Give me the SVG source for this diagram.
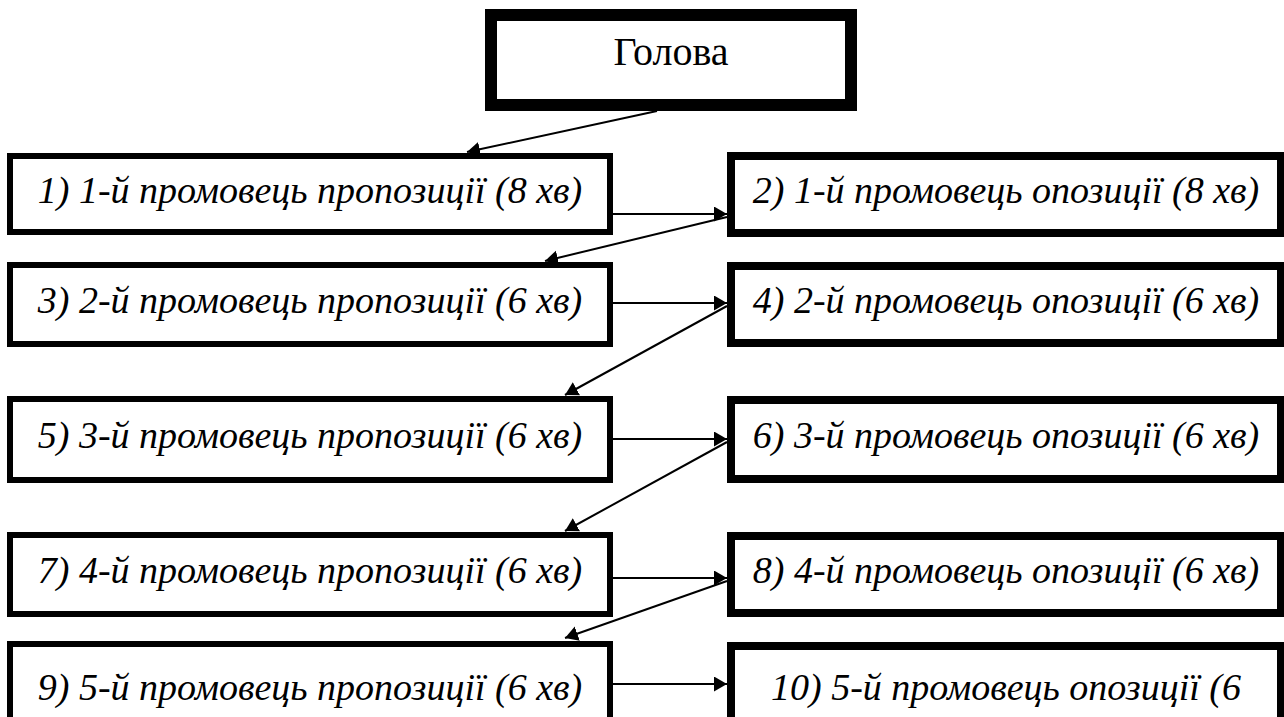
<svg xmlns="http://www.w3.org/2000/svg" width="1284" height="717" viewBox="0 0 1284 717">
<defs>
<style>
.bg{fill:#fff}
.lb{fill:#fff;stroke:#000;stroke-width:6}
.rb{fill:#fff;stroke:#000;stroke-width:8}
.hb{fill:#fff;stroke:#000;stroke-width:12}
.t{font-family:"Liberation Serif","Times New Roman",serif;font-style:italic;font-size:38px;fill:#000;text-anchor:middle}
.h{font-family:"Liberation Serif","Times New Roman",serif;font-size:40px;fill:#000;text-anchor:middle}
.c{stroke:#000;stroke-width:2;fill:none;marker-end:url(#ah)}
</style>
<marker id="ah" markerUnits="userSpaceOnUse" markerWidth="14" markerHeight="16" refX="13" refY="7.5" orient="auto">
<path d="M0,0 L13,7.5 L0,15 z" fill="#000"/>
</marker>
</defs>
<rect class="bg" x="0" y="0" width="1284" height="717"/>
<g id="n0"><rect class="hb" x="491" y="15" width="360" height="90"/><text class="h" x="671" y="65">Голова</text></g>
<g id="n1"><rect class="lb" x="10" y="156" width="600" height="76"/><text class="t" x="310" y="203">1) 1-й промовець пропозиції (8 хв)</text></g>
<g id="n2"><rect class="rb" x="731" y="156" width="550" height="77"/><text class="t" x="1006" y="203">2) 1-й промовець опозиції (8 хв)</text></g>
<g id="n3"><rect class="lb" x="10" y="265" width="600" height="79"/><text class="t" x="310" y="313">3) 2-й промовець пропозиції (6 хв)</text></g>
<g id="n4"><rect class="rb" x="731" y="266" width="550" height="77"/><text class="t" x="1006" y="313">4) 2-й промовець опозиції (6 хв)</text></g>
<g id="n5"><rect class="lb" x="10" y="399" width="600" height="81"/><text class="t" x="310" y="448">5) 3-й промовець пропозиції (6 хв)</text></g>
<g id="n6"><rect class="rb" x="731" y="400" width="550" height="79"/><text class="t" x="1006" y="448">6) 3-й промовець опозиції (6 хв)</text></g>
<g id="n7"><rect class="lb" x="10" y="535" width="600" height="79"/><text class="t" x="310" y="583">7) 4-й промовець пропозиції (6 хв)</text></g>
<g id="n8"><rect class="rb" x="731" y="536" width="550" height="77"/><text class="t" x="1006" y="583">8) 4-й промовець опозиції (6 хв)</text></g>
<g id="n9"><rect class="lb" x="10" y="644" width="600" height="90"/><text class="t" x="310" y="700">9) 5-й промовець пропозиції (6 хв)</text></g>
<g id="n10"><rect class="rb" x="731" y="646" width="550" height="90"/><text class="t" x="1006" y="700">10) 5-й промовець опозиції (6</text></g>
<g id="connectors">
<line class="c" x1="657" y1="111" x2="467" y2="152"/>
<line class="c" x1="613" y1="214" x2="727" y2="214"/>
<line class="c" x1="727" y1="217" x2="545" y2="261"/>
<line class="c" x1="613" y1="303" x2="727" y2="303"/>
<line class="c" x1="727" y1="306" x2="565" y2="395"/>
<line class="c" x1="613" y1="439" x2="727" y2="439"/>
<line class="c" x1="727" y1="442" x2="565" y2="531"/>
<line class="c" x1="613" y1="578" x2="727" y2="578"/>
<line class="c" x1="727" y1="581" x2="565" y2="638"/>
<line class="c" x1="613" y1="684" x2="727" y2="684"/>
</g>
</svg>
